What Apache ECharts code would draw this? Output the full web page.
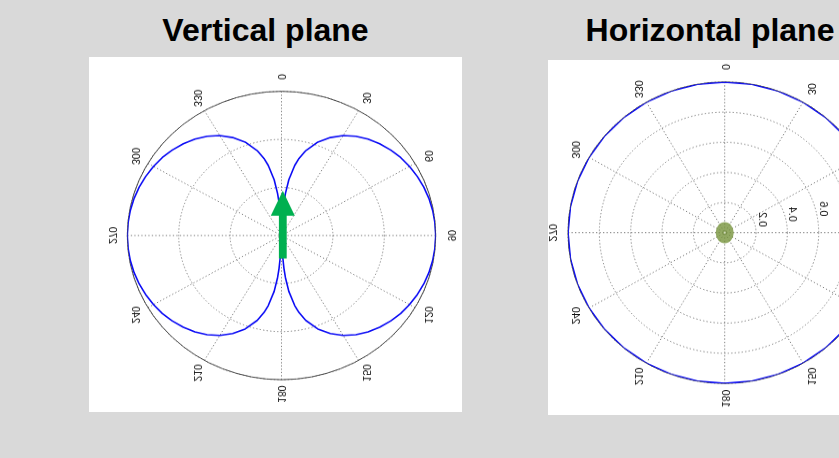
<!DOCTYPE html>
<html>
<head>
<meta charset="utf-8">
<script src="https://cdn.jsdelivr.net/npm/echarts@6/dist/echarts.min.js"></script>
<style>
  html, body { margin:0; padding:0; }
  body { width:839px; height:458px; overflow:hidden; position:relative; background:#d9d9d9; }
  .title { position:absolute; top:14px; font-family:'Liberation Sans', Arial, sans-serif; font-weight:bold;
           font-size:32px; line-height:32px; color:#000; white-space:nowrap; transform:translateX(-50%); }
  .box { position:absolute; background:#fff; overflow:hidden; }
  .chart { position:absolute; left:0; top:0; transform-origin:0 0; }
</style>
</head>
<body>
<div class="title" style="left:265.5px">Vertical plane</div>
<div class="title" style="left:710px">Horizontal plane</div>
<div class="box" style="left:89px;top:57px;width:373px;height:355px">
  <div id="cV" class="chart" style="width:373px;height:380px;transform:scaleY(0.935)"></div>
</div>
<div class="box" style="left:548px;top:60px;width:373px;height:355px">
  <div id="cH" class="chart" style="width:373px;height:369px;transform:scaleY(0.962)"></div>
</div>
<script>
// ---------- data ----------
// Vertical plane: relative gain in dB (radial scale -30 .. 0 dB)
const vAngles = [0,2,3,4,5,7,10,12,15,20,25,30,35,40,45,50,55,60,65,70,75,80,85,90,
  95,100,105,110,115,120,125,130,135,140,145,150,155,160,165,168,170,173,175,176,177,178,180,
  182,183,184,185,187,190,192,195,200,205,210,215,220,225,230,235,240,245,250,255,260,265,270,
  275,280,285,290,295,300,305,310,315,320,325,330,335,340,345,348,350,353,355,356,357,358,360];
const vGainDb = [-30,-29.1,-25.6,-23.1,-21.2,-18.3,-15.2,-13.6,-11.7,-9.3,-7.5,-6.0,-4.8,-3.8,-3.0,-2.3,-1.7,-1.25,-0.86,-0.54,-0.30,-0.13,-0.03,0,
  -0.03,-0.13,-0.30,-0.54,-0.86,-1.25,-1.7,-2.3,-3.0,-3.8,-4.8,-6.0,-7.5,-9.3,-11.7,-13.6,-15.2,-18.3,-21.2,-23.1,-25.6,-29.1,-30,
  -29.1,-25.6,-23.1,-21.2,-18.3,-15.2,-13.6,-11.7,-9.3,-7.5,-6.0,-4.8,-3.8,-3.0,-2.3,-1.7,-1.25,-0.86,-0.54,-0.30,-0.13,-0.03,0,
  -0.03,-0.13,-0.30,-0.54,-0.86,-1.25,-1.7,-2.3,-3.0,-3.8,-4.8,-6.0,-7.5,-9.3,-11.7,-13.6,-15.2,-18.3,-21.2,-23.1,-25.6,-29.1,-30];

// Horizontal plane: normalised gain (omnidirectional)
const hAngles = [0,10,20,30,40,50,60,70,80,90,100,110,120,130,140,150,160,170,180,
  190,200,210,220,230,240,250,260,270,280,290,300,310,320,330,340,350,360];
const hGain = [1,1,1,1,1,1,1,1,1,1,1,1,1,1,1,1,1,1,1,1,1,1,1,1,1,1,1,1,1,1,1,1,1,1,1,1,1];

// angle tick labels (both plots)
const angleTicks = [0,30,60,90,120,150,180,210,240,270,300,330];
const angleTickLabels = ['0','30','60','90','120','150','180','210','240','270','300','330'];
// radial tick labels (horizontal plane)
const hRadiusTicks = [0.2,0.4,0.6,0.8,1];
const hRadiusLabels = ['0.2','0.4','0.6','0.8','1'];

// ---------- styles ----------
const FONT = "'Liberation Sans', Arial, sans-serif";
const gridLine = { show:true, lineStyle:{ color:'#7c7c7c', type:[1.3,2.2], width:1 } };

function flippedText(x, y, text) {
  return { type:'text', x:x, y:y, scaleX:-1, rotation:-Math.PI/2, silent:true, z:50,
           style:{ text:text, fontSize:11, fontFamily:FONT, fill:'#111', align:'center', verticalAlign:'middle' } };
}

function baseOption(center, radius, rMin, rMax, rInterval) {
  return {
    animation:false,
    polar:{ center:center, radius:radius },
    angleAxis:{ type:'value', min:0, max:360, interval:30, startAngle:90, clockwise:true,
      axisLine:{ show:true, lineStyle:{ color:'#474747', width:1 } },
      axisTick:{ show:false }, axisLabel:{ show:false }, splitLine:gridLine },
    radiusAxis:{ type:'value', min:rMin, max:rMax, interval:rInterval,
      axisLine:{ show:false }, axisTick:{ show:false }, axisLabel:{ show:false }, splitLine:gridLine }
  };
}

// ---------- vertical plane ----------
const cV = echarts.init(document.getElementById('cV'));
const optV = baseOption([192.5, 190.9], 154.2, -30, 0, 10);
optV.series = [{
  type:'line', coordinateSystem:'polar', symbol:'none', showSymbol:false, smooth:false,
  lineStyle:{ color:'#0a0af5', width:1.6 },
  data: vGainDb.map((v,i)=>[v, vAngles[i]]), z:10
}];
cV.setOption(optV);
(function(){
  const g = [];
  angleTicks.forEach((a,i)=>{
    const p = cV.convertToPixel({seriesIndex:0}, [3, a]);
    g.push(flippedText(p[0], p[1], angleTickLabels[i]));
  });
  // arrow (dipole orientation)
  const c = cV.convertToPixel({seriesIndex:0}, [-30, 0]);
  const top = cV.convertToPixel({seriesIndex:0}, [0, 0]);
  const R = c[1] - top[1];
  const cx = c[0] + 1.3;
  const yBot = c[1] + 0.16*R, yNeck = c[1] - 0.137*R, yTip = c[1] - 0.31*R;
  const sw = 3.9, hw = 12;
  g.push({ type:'polygon', silent:true, z:60,
    shape:{ points:[[cx-sw,yBot],[cx+sw,yBot],[cx+sw,yNeck],[cx+hw,yNeck],[cx,yTip],[cx-hw,yNeck],[cx-sw,yNeck]] },
    style:{ fill:'#00b050' } });
  cV.setOption({ graphic:g });
})();

// ---------- horizontal plane ----------
const cH = echarts.init(document.getElementById('cH'));
const optH = baseOption([176.7, 179.5], 156.7, 0, 1, 0.2);
optH.series = [{
  type:'line', coordinateSystem:'polar', symbol:'none', showSymbol:false, smooth:false,
  lineStyle:{ color:'#0a0af5', width:1.7 },
  data: hGain.map((v,i)=>[v, hAngles[i]]), z:10
},{
  type:'scatter', coordinateSystem:'polar', symbol:'circle', symbolSize:[18,22],
  itemStyle:{ color:'#77933c' }, data:[[0,0]], z:20
},{
  type:'scatter', coordinateSystem:'polar', symbol:'circle', symbolSize:2,
  itemStyle:{ color:'#e8eedc' }, data:[[0,0]], z:21
}];
cH.setOption(optH);
(function(){
  const g = [];
  angleTicks.forEach((a,i)=>{
    const p = cH.convertToPixel({seriesIndex:0}, [1.1, a]);
    g.push(flippedText(p[0], p[1], angleTickLabels[i]));
  });
  hRadiusTicks.forEach((r,i)=>{
    const p = cH.convertToPixel({seriesIndex:0}, [r, 80]);
    g.push(flippedText(p[0] + 6, p[1] - 8.3, hRadiusLabels[i]));
  });
  cH.setOption({ graphic:g });
})();
</script>
</body>
</html>
